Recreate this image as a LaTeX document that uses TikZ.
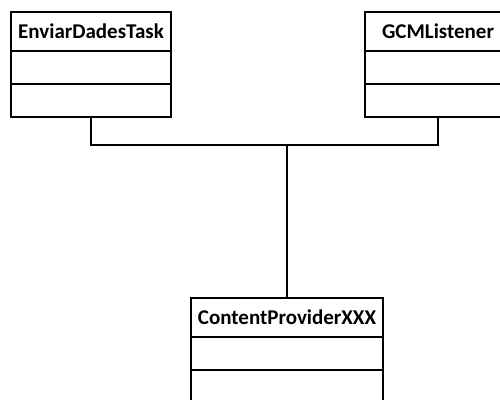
\documentclass[tikz,border=0pt]{standalone}
\usepackage{fontspec}
\setmainfont{Carlito}
\usetikzlibrary{positioning}

\tikzset{
  classtitle/.style={rectangle,draw,line width=1.2pt,outer sep=0pt,inner sep=0pt,
    minimum height=39pt,font=\fontsize{21}{25}\selectfont\bfseries},
  classpart/.style={rectangle,draw,line width=1.2pt,outer sep=0pt,inner sep=0pt,
    minimum height=33pt}
}

\begin{document}
\begin{tikzpicture}[x=1pt,y=-1pt]
    \useasboundingbox (0,0) rectangle (500,399);
    \clip (0,0) rectangle (500,399);

    % EnviarDadesTask
    \node[classtitle,minimum width=160pt] (task) at (91,31.5) {EnviarDadesTask};
    \node[classpart,minimum width=160pt,below=0pt of task] (task attr) {};
    \node[classpart,minimum width=160pt,below=0pt of task attr] (task ops) {};

    % GCMListener
    \node[classtitle,minimum width=146pt] (gcm) at (438,31.5) {GCMListener};
    \node[classpart,minimum width=146pt,below=0pt of gcm] (gcm attr) {};
    \node[classpart,minimum width=146pt,below=0pt of gcm attr] (gcm ops) {};

    % ContentProviderXXX
    \node[classtitle,minimum width=192pt] (provider) at (287,317.5) {ContentProviderXXX};
    \node[classpart,minimum width=192pt,below=0pt of provider] (provider attr) {};
    \node[classpart,minimum width=192pt,below=0pt of provider attr] (provider ops) {};

    % Links
    \coordinate (join) at (287,145);
    \draw[line width=1.2pt] (task ops.south) |- (join) -| (gcm ops.south);
    \draw[line width=1.2pt] (join) -- (provider.north);
\end{tikzpicture}
\end{document}
